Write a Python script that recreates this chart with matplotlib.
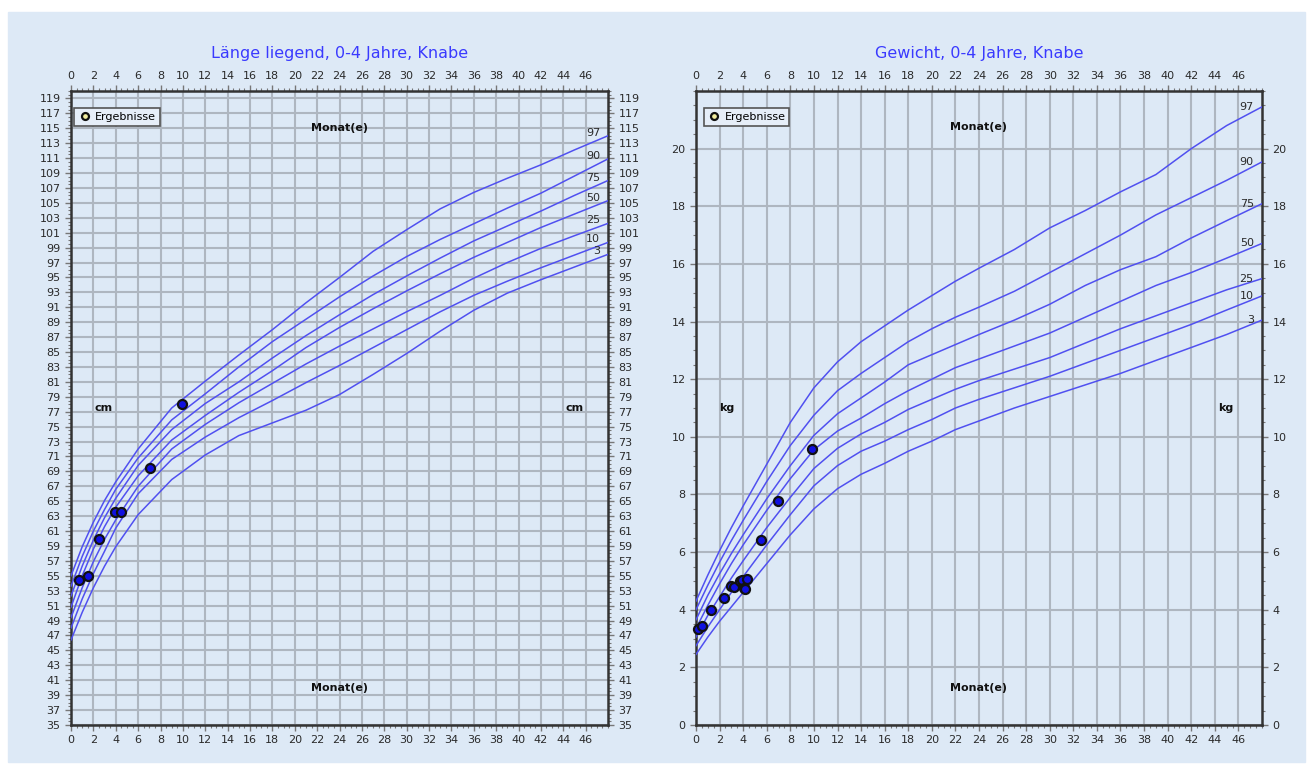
import matplotlib
matplotlib.use("Agg")
import matplotlib.pyplot as plt
from matplotlib.lines import Line2D
from matplotlib.patches import Rectangle
from matplotlib.ticker import MultipleLocator

# Länge liegend (cm), Perzentilen 3..97
len_monate = [0, 1, 2, 3, 4, 6, 9, 12, 15, 18, 21, 24, 27, 30, 33, 36, 39, 42, 45, 48]
len_p97 = [55.0, 58.9, 62.2, 65.1, 67.6, 72.0, 77.5, 81.1, 84.6, 88.0, 91.6, 95.0, 98.5, 101.4, 104.2, 106.4, 108.3, 110.1, 112.1, 114.0]
len_p90 = [53.6, 57.6, 61.0, 63.9, 66.6, 70.8, 75.9, 79.4, 83.0, 86.4, 89.4, 92.4, 95.2, 97.8, 100.1, 102.2, 104.3, 106.3, 108.6, 110.9]
len_p75 = [52.3, 56.3, 59.8, 62.8, 65.4, 69.8, 74.6, 78.1, 81.0, 84.2, 87.2, 90.0, 92.7, 95.2, 97.6, 99.9, 101.9, 103.9, 106.0, 108.0]
len_p50 = [50.8, 55.0, 58.6, 61.6, 64.2, 68.4, 73.2, 76.5, 79.6, 82.5, 85.6, 88.3, 90.8, 93.2, 95.5, 97.7, 99.7, 101.7, 103.5, 105.3]
len_p25 = [49.4, 53.4, 56.9, 59.9, 62.5, 67.0, 72.0, 75.3, 78.2, 80.8, 83.4, 85.8, 88.1, 90.4, 92.6, 94.9, 97.0, 98.9, 100.6, 102.25]
len_p10 = [48.0, 51.9, 55.3, 58.3, 61.4, 66.0, 70.6, 73.6, 76.2, 78.5, 80.9, 83.2, 85.6, 88.0, 90.4, 92.6, 94.5, 96.3, 98.0, 99.7]
len_p3 = [46.4, 50.1, 53.4, 56.3, 58.9, 63.2, 67.9, 71.2, 73.8, 75.5, 77.2, 79.3, 82.0, 84.8, 87.8, 90.6, 92.9, 94.7, 96.4, 98.1]

# Gewicht (kg), Perzentilen 3..97
gew_monate = [0, 1, 2, 3, 4, 6, 8, 10, 12, 14, 16, 18, 20, 22, 24, 27, 30, 33, 36, 39, 42, 45, 48]
gew_p97 = [4.3, 5.2, 6.05, 6.85, 7.6, 9.05, 10.5, 11.7, 12.6, 13.3, 13.85, 14.4, 14.9, 15.4, 15.85, 16.5, 17.25, 17.85, 18.5, 19.1, 20.0, 20.8, 21.45]
gew_p90 = [4.0, 4.85, 5.65, 6.4, 7.1, 8.45, 9.7, 10.75, 11.6, 12.2, 12.75, 13.3, 13.75, 14.15, 14.5, 15.05, 15.7, 16.35, 17.0, 17.7, 18.3, 18.9, 19.54]
gew_p75 = [3.65, 4.5, 5.25, 5.95, 6.6, 7.85, 9.0, 10.05, 10.8, 11.35, 11.9, 12.5, 12.85, 13.2, 13.55, 14.05, 14.6, 15.25, 15.8, 16.25, 16.9, 17.5, 18.09]
gew_p50 = [3.35, 4.15, 4.9, 5.6, 6.25, 7.45, 8.55, 9.55, 10.2, 10.65, 11.15, 11.6, 12.0, 12.4, 12.7, 13.15, 13.6, 14.15, 14.7, 15.25, 15.7, 16.2, 16.71]
gew_p25 = [3.05, 3.8, 4.45, 5.1, 5.7, 6.85, 7.9, 8.9, 9.6, 10.1, 10.5, 10.95, 11.3, 11.65, 11.95, 12.35, 12.75, 13.25, 13.75, 14.2, 14.65, 15.1, 15.49]
gew_p10 = [2.75, 3.4, 4.0, 4.6, 5.15, 6.25, 7.3, 8.3, 9.0, 9.5, 9.85, 10.25, 10.6, 11.0, 11.3, 11.7, 12.1, 12.55, 13.0, 13.45, 13.9, 14.4, 14.89]
gew_p3 = [2.45, 3.05, 3.6, 4.1, 4.6, 5.6, 6.6, 7.5, 8.2, 8.7, 9.08, 9.5, 9.85, 10.25, 10.55, 11.0, 11.4, 11.8, 12.2, 12.65, 13.1, 13.55, 14.05]

perzentilen = ["97", "90", "75", "50", "25", "10", "3"]

# Messungen (Ergebnisse)
erg_len_monate = [0.7, 1.5, 2.5, 3.9, 4.5, 7.1, 9.95]
erg_len_cm = [54.5, 55.0, 60.0, 63.5, 63.5, 69.5, 78.0]
erg_gew_monate = [0.2, 0.55, 1.25, 2.4, 3.0, 3.2, 3.75, 3.9, 4.05, 4.15, 4.35, 5.55, 6.95, 9.8]
erg_gew_kg = [3.33, 3.45, 3.98, 4.4, 4.82, 4.8, 4.98, 5.02, 4.75, 4.72, 5.06, 6.42, 7.77, 9.57]

BG = "#dde9f6"
LINIE = "#5050f0"
TXT = "#2a2a2a"

fig = plt.figure(figsize=(13.1, 7.72), dpi=100)
fig.patch.set_facecolor("white")
fig.patches.append(Rectangle((8 / 1310, 10 / 772), 1297 / 1310, 750 / 772,
                             transform=fig.transFigure, color=BG, zorder=-10))

ax1 = fig.add_axes([71 / 1310, 47 / 772, 537 / 1310, 634 / 772])
ax2 = fig.add_axes([696 / 1310, 47 / 772, 566 / 1310, 634 / 772])


def rahmen(ax, ymin, ymax, ystart, ystep, yminor, titel, einheit, ytext_unit, ytext_monat):
    ax.set_facecolor(BG)
    ax.set_xlim(0, 48)
    ax.set_ylim(ymin, ymax)
    ax.set_xticks(range(0, 47, 2))
    yt = list(range(ystart, ymax, ystep))
    ax.set_yticks(yt)
    ax.xaxis.set_minor_locator(MultipleLocator(0.5))
    ax.yaxis.set_minor_locator(MultipleLocator(yminor))
    ax.grid(True, which="major", color="#aeb6c0", lw=1.5)
    ax.set_axisbelow(True)
    ax.tick_params(which="both", top=True, right=True, labeltop=True, labelright=True,
                   direction="out", color="#777777", labelsize=8, labelcolor=TXT)
    ax.tick_params(which="major", length=4, width=1)
    ax.tick_params(which="minor", length=2, width=0.8)
    for s in ax.spines.values():
        s.set_color("#333333")
        s.set_linewidth(1.8)
    ax.set_title(titel, color="#3a3aff", fontsize=11.5, pad=24)
    for yy in ytext_monat:
        ax.text(24, yy, "Monat(e)", fontsize=8, fontweight="bold", color="#111111",
                ha="center", va="center")
    for xx in ytext_unit[:2]:
        ax.text(xx, ytext_unit[2], einheit, fontsize=8, fontweight="bold", color="#111111",
                ha="center", va="center")


def kurven(ax, monate, reihen, dy):
    for name, werte in zip(perzentilen, reihen):
        ax.plot(monate, werte, color=LINIE, lw=1.1, zorder=3)
        ax.text(47.3, werte[-1] + dy, name, fontsize=8, color=TXT, ha="right", va="center", zorder=4)


def ergebnisse(ax, mx, my, bx):
    ax.plot(mx, my, ls="none", marker="o", markersize=6.5, markerfacecolor="#1010e0",
            markeredgecolor="#111111", markeredgewidth=1.6, zorder=5, clip_on=False)
    h = Line2D([], [], ls="none", marker="o", markersize=5, markerfacecolor="#f2eea0",
               markeredgecolor="#111111", markeredgewidth=1.6)
    leg = ax.legend([h], ["Ergebnisse"], loc="upper left", bbox_to_anchor=(bx, 0.973),
                    borderaxespad=0, fontsize=8, fancybox=False, framealpha=1,
                    handletextpad=0.3, handlelength=1.2, borderpad=0.35)
    leg.get_frame().set_edgecolor("#555555")
    leg.get_frame().set_facecolor("#e6eef8")
    leg.get_frame().set_linewidth(1.2)


rahmen(ax1, 35, 120, 35, 2, 0.5, "Länge liegend, 0-4 Jahre, Knabe", "cm",
       (2.95, 45.0, 77.5), (115.0, 40.0))
kurven(ax1, len_monate, [len_p97, len_p90, len_p75, len_p50, len_p25, len_p10, len_p3], 0.4)
ergebnisse(ax1, erg_len_monate, erg_len_cm, 0.006)

rahmen(ax2, 0, 22, 0, 2, 0.5, "Gewicht, 0-4 Jahre, Knabe", "kg",
       (2.63, 44.95, 11.0), (20.74, 1.28))
kurven(ax2, gew_monate, [gew_p97, gew_p90, gew_p75, gew_p50, gew_p25, gew_p10, gew_p3], 0.0)
ergebnisse(ax2, erg_gew_monate, erg_gew_kg, 0.014)

fig.savefig("out.png", dpi=100, facecolor=fig.get_facecolor())
